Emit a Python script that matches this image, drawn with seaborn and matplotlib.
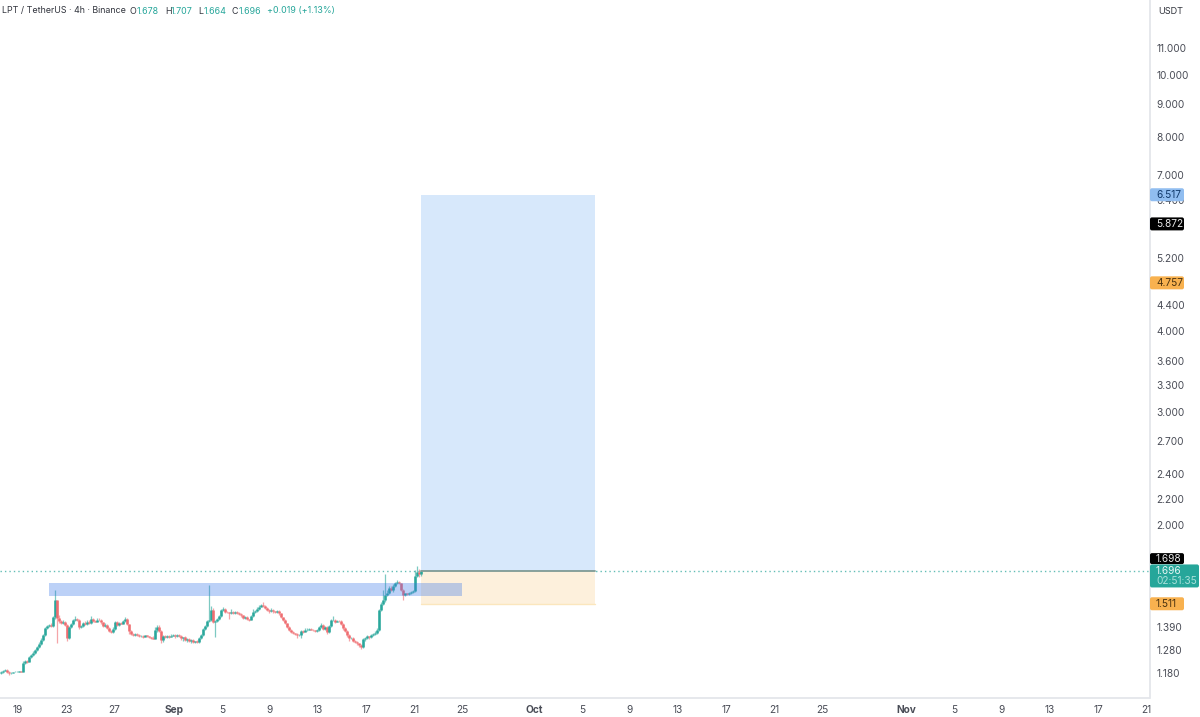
import numpy as np
import pandas as pd
import matplotlib
matplotlib.use("Agg")
import matplotlib.pyplot as plt
from matplotlib.patches import FancyBboxPatch
import seaborn as sns

# 4h closes
closes = [
    1.184, 1.190, 1.193, 1.186, 1.178, 1.180, 1.184, 1.186, 1.186, 1.187,
    1.186, 1.222, 1.232, 1.228, 1.249, 1.258, 1.268, 1.281, 1.295, 1.310,
    1.328, 1.350, 1.386, 1.395, 1.401, 1.395, 1.440, 1.530, 1.437, 1.420,
    1.411, 1.418, 1.400, 1.338, 1.391, 1.405, 1.425, 1.432, 1.428, 1.391,
    1.396, 1.412, 1.405, 1.418, 1.410, 1.430, 1.422, 1.418, 1.428, 1.424,
    1.415, 1.398, 1.402, 1.385, 1.372, 1.367, 1.380, 1.415, 1.400, 1.410,
    1.408, 1.420, 1.432, 1.405, 1.372, 1.357, 1.352, 1.358, 1.350, 1.345,
    1.348, 1.343, 1.350, 1.345, 1.340, 1.336, 1.333, 1.375, 1.392, 1.372,
    1.328, 1.345, 1.340, 1.348, 1.343, 1.348, 1.352, 1.345, 1.352, 1.348,
    1.335, 1.340, 1.328, 1.333, 1.322, 1.328, 1.318, 1.322, 1.316, 1.335,
    1.350, 1.380, 1.395, 1.420, 1.425, 1.478, 1.416, 1.420, 1.432, 1.445,
    1.478, 1.485, 1.468, 1.465, 1.462, 1.468, 1.463, 1.466, 1.462, 1.458,
    1.450, 1.437, 1.440, 1.430, 1.428, 1.445, 1.465, 1.470, 1.482, 1.495,
    1.505, 1.500, 1.490, 1.478, 1.472, 1.478, 1.470, 1.468, 1.472, 1.460,
    1.440, 1.426, 1.410, 1.390, 1.378, 1.365, 1.360, 1.357, 1.352, 1.352,
    1.372, 1.368, 1.374, 1.378, 1.380, 1.378, 1.374, 1.372, 1.375, 1.390,
    1.401, 1.380, 1.390, 1.368, 1.395, 1.425, 1.428, 1.418, 1.422, 1.420,
    1.405, 1.385, 1.372, 1.350, 1.335, 1.338, 1.325, 1.320, 1.312, 1.305,
    1.295, 1.330, 1.338, 1.345, 1.340, 1.350, 1.355, 1.360, 1.376, 1.478,
    1.510, 1.530, 1.560, 1.570, 1.600, 1.585, 1.610, 1.625, 1.632, 1.625,
    1.590, 1.560, 1.568, 1.566, 1.570, 1.578, 1.582, 1.670, 1.690, 1.678,
    1.696,
]
# wick lengths beyond the body, in thousandths of a dollar
upper_wicks = [
    4, 3, 5, 4, 3, 3, 2, 2, 2, 2,
    2, 8, 6, 5, 5, 6, 8, 6, 5, 8,
    8, 6, 5, 8, 6, 10, 8, 58, 3, 12,
    8, 6, 4, 4, 5, 6, 8, 14, 6, 4,
    5, 6, 10, 8, 10, 14, 8, 4, 10, 6,
    6, 3, 8, 4, 4, 5, 10, 8, 5, 5,
    4, 6, 10, 4, 3, 3, 3, 4, 4, 4,
    3, 4, 3, 3, 4, 4, 10, 14, 8, 8,
    5, 6, 8, 5, 4, 8, 4, 3, 4, 4,
    4, 4, 8, 4, 4, 4, 4, 3, 4, 5,
    5, 6, 8, 6, 192, 22, 8, 5, 6, 8,
    6, 6, 4, 5, 4, 14, 4, 6, 5, 4,
    3, 4, 4, 4, 3, 6, 16, 8, 12, 8,
    5, 16, 6, 6, 4, 10, 4, 4, 6, 4,
    3, 3, 4, 3, 4, 3, 4, 3, 4, 3,
    4, 3, 14, 6, 4, 5, 4, 4, 5, 8,
    12, 4, 6, 4, 6, 8, 18, 5, 6, 6,
    4, 5, 4, 3, 4, 4, 3, 4, 3, 3,
    5, 8, 6, 5, 4, 5, 5, 10, 8, 6,
    10, 60, 118, 20, 10, 12, 10, 8, 12, 5,
    5, 4, 5, 4, 4, 4, 3, 36, 40, 20,
    5,
]
lower_wicks = [
    4, 3, 3, 5, 8, 3, 2, 2, 2, 2,
    2, 3, 4, 4, 3, 4, 3, 4, 5, 4,
    4, 4, 5, 5, 6, 5, 6, 8, 123, 8,
    5, 4, 4, 14, 5, 4, 3, 4, 5, 8,
    6, 3, 5, 4, 6, 3, 5, 4, 3, 4,
    8, 5, 5, 4, 6, 8, 4, 3, 5, 4,
    4, 3, 4, 5, 14, 6, 4, 4, 3, 4,
    3, 4, 3, 3, 5, 4, 3, 3, 8, 8,
    14, 10, 4, 3, 5, 3, 3, 6, 4, 5,
    8, 10, 4, 10, 6, 8, 5, 6, 4, 3,
    4, 3, 4, 5, 4, 3, 6, 75, 6, 4,
    3, 5, 6, 4, 30, 5, 6, 4, 5, 4,
    8, 6, 5, 4, 5, 3, 4, 5, 4, 3,
    3, 5, 6, 6, 8, 6, 8, 5, 4, 10,
    6, 5, 6, 5, 5, 4, 5, 4, 16, 4,
    14, 5, 4, 4, 3, 4, 5, 4, 5, 4,
    5, 5, 6, 14, 5, 4, 4, 5, 4, 3,
    5, 8, 6, 8, 10, 5, 6, 6, 8, 10,
    8, 4, 6, 5, 6, 4, 3, 4, 4, 4,
    6, 5, 8, 4, 6, 6, 8, 5, 4, 5,
    6, 30, 5, 6, 5, 5, 6, 4, 6, 14,
    8,
]
first_open = 1.180

y_ticks = [11, 10, 9, 8, 7, 6.4, 5.2, 4.4, 4, 3.6, 3.3, 3, 2.7, 2.4, 2.2, 2, 1.39, 1.28, 1.18]
x_ticks = ["08-19", "08-23", "08-27", "09-01", "09-05", "09-09", "09-13", "09-17", "09-21", "09-25",
           "10-01", "10-05", "10-09", "10-13", "10-17", "10-21", "10-25",
           "11-01", "11-05", "11-09", "11-13", "11-17", "11-21"]
x_labels = ["19", "23", "27", "Sep", "5", "9", "13", "17", "21", "25",
            "Oct", "5", "9", "13", "17", "21", "25",
            "Nov", "5", "9", "13", "17", "21"]

last_price = 1.696
entry = 1.698
target = 6.517
stop = 1.511
zone_low, zone_high = 1.553, 1.629

TEAL = "#26a69a"
RED = "#ef6a6e"
FS = 7.3

sns.set_theme(style="white")
plt.rcParams["font.family"] = ["Inter", "DejaVu Sans"]

fig = plt.figure(figsize=(12, 7.17), dpi=100)
ax = fig.add_axes([0, 19 / 717, 1149.5 / 1200, 698 / 717])

df = pd.DataFrame({
    "time": pd.date_range("2024-08-17 14:00", periods=len(closes), freq="4h"),
    "close": closes,
})
df["open"] = [first_open] + closes[:-1]
df["high"] = df[["open", "close"]].max(axis=1) + np.array(upper_wicks) / 1000
df["low"] = df[["open", "close"]].min(axis=1) - np.array(lower_wicks) / 1000
colors = np.where(df["close"] >= df["open"], TEAL, RED)

ax.vlines(df["time"], df["low"], df["high"], colors=colors, lw=0.9, alpha=0.6, zorder=2)
ax.vlines(df["time"], df["open"], df["close"], colors=colors, lw=1.9, alpha=0.95, zorder=3)

# last price dotted line
lp = pd.DataFrame({"t": pd.to_datetime(["2024-08-17 12:00", "2024-11-21 07:00"]), "p": [last_price] * 2})
sns.lineplot(data=lp, x="t", y="p", ax=ax, color="#62bdb5", lw=1.0, linestyle=(0, (1, 2.2)), zorder=1)

# long position tool
pos_start = pd.Timestamp("2024-09-21 13:00")
pos_end = pd.Timestamp("2024-10-06 02:00")
ax.fill_between([pos_start, pos_end], entry, target, color="#d7e8fb", lw=0, zorder=1.5)
ax.fill_between([pos_start, pos_end], stop, entry, color="#fdf0dc", lw=0, zorder=1.5)
ax.plot([pos_start, pos_end], [entry, entry], color="#7f9a94", lw=1.3, zorder=4)
ax.plot([pos_start, pos_end], [stop, stop], color="#fbe6bd", lw=1.0, zorder=1.6)

# demand zone
ax.fill_between([pd.Timestamp("2024-08-21 14:00"), pd.Timestamp("2024-09-25 00:00")],
                zone_low, zone_high, color="#3d78e8", alpha=0.34, lw=0, zorder=3.5)

ax.set_yscale("log")
ax.set_xlim(pd.Timestamp("2024-08-17 12:00"), pd.Timestamp("2024-11-21 07:00"))
ax.set_ylim(1.079, 13.07)
ax.set_xlabel("")
ax.set_ylabel("")

ax.yaxis.tick_right()
ax.set_yticks(y_ticks)
ax.set_yticklabels([f"{v:.3f}" for v in y_ticks], color="#4a4d57", fontsize=FS)
ax.minorticks_off()
ax.set_xticks(pd.to_datetime(["2024-" + d for d in x_ticks]))
ax.set_xticklabels(x_labels, color="#4a4d57", fontsize=FS)
for lab in ax.get_xticklabels():
    if lab.get_text() in ("Sep", "Oct", "Nov"):
        lab.set_fontweight("bold")
ax.tick_params(axis="both", length=0)
ax.tick_params(axis="y", pad=5)
ax.tick_params(axis="x", pad=5)

sns.despine(ax=ax, top=True, left=True, right=False, bottom=False)
ax.spines["right"].set_color("#e3e5ea")
ax.spines["bottom"].set_color("#e3e5ea")


def price_tag(price, text, bg, fg, right=1184, half=6.5, shift=0):
    # box is sized in pixels, centred on the price's own pixel row
    yc = ax.transData.transform((0, price))[1] + shift
    fig.add_artist(FancyBboxPatch((1150, yc - half), right - 1150, 2 * half,
                                  boxstyle="round,pad=0,rounding_size=2", fc=bg, ec="none",
                                  transform=None, zorder=10))
    fig.text(1156 / 1200, yc / 717, text, fontsize=FS, color=fg, va="center", ha="left", zorder=11)


price_tag(target, "6.517", "#90bdf0", "#123a6b")
price_tag(5.872, "5.872", "#000000", "#e8e8e8")
price_tag(4.757, "4.757", "#f8b14f", "#4a3210")
price_tag(entry, "1.698", "#000000", "#e8e8e8", half=5.5, shift=12.5)
price_tag(stop, "1.511", "#f8b14f", "#4a3210")

# countdown tag under the last price
yc = ax.transData.transform((0, last_price))[1]
fig.add_artist(FancyBboxPatch((1150, yc - 16), 49, 23, boxstyle="round,pad=0,rounding_size=2",
                              fc=TEAL, ec="none", transform=None, zorder=10))
fig.text(1156 / 1200, yc / 717, "1.696", fontsize=FS, color="#e6f6f4", va="center", zorder=11)
fig.text(1156 / 1200, (yc - 10) / 717, "02:51:35", fontsize=FS, color="#a9e0da", va="center", zorder=11)

fig.text(1158 / 1200, 1 - 11 / 717, "USDT", fontsize=6.6, color="#33363f", va="center")

# header
header = [
    (2, "LPT / TetherUS · 4h · Binance", "#33363f"), (130, "O", "#33363f"), (137, "1.678", TEAL),
    (165, "H", "#33363f"), (171, "1.707", TEAL), (198, "L", "#33363f"), (204, "1.664", TEAL),
    (232, "C", "#33363f"), (239, "1.696", TEAL), (267, "+0.019 (+1.13%)", TEAL),
]
for px, txt, col in header:
    fig.text(px / 1200, 1 - 11 / 717, txt, fontsize=6.4, color=col, va="center")

fig.savefig("out.png", dpi=100)
